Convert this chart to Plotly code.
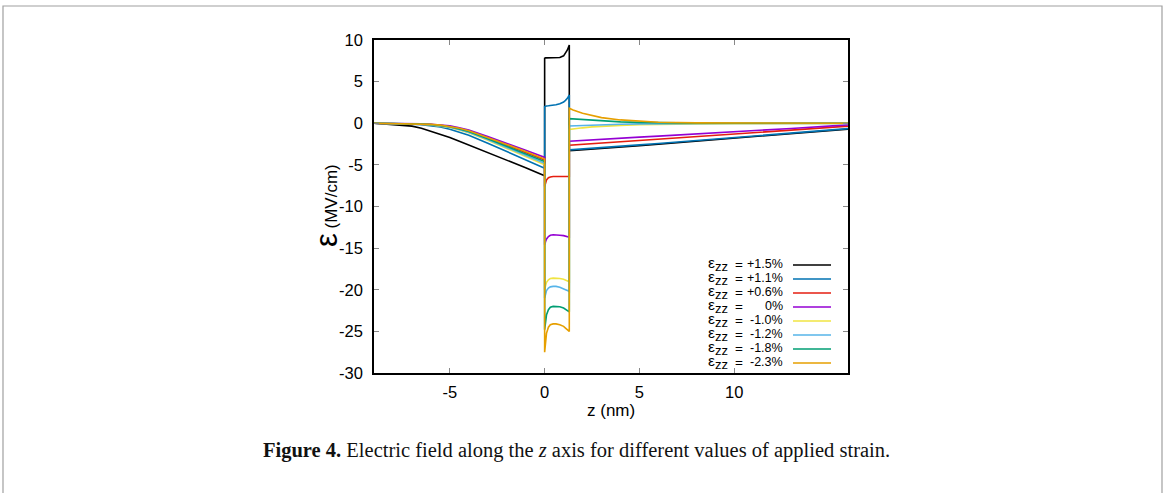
import plotly.graph_objects as go

# ---------------- data ----------------
z_left = [-9, -8, -7, -6.5, -6, -5.5, -5, -4.5, -4, -3, -2, -1, 0]
z_well = [0, 0.05, 0.1, 0.2, 0.3, 0.45, 0.6, 0.8, 1.0, 1.1, 1.2, 1.3]
z_right = [1.3, 1.5, 2, 2.5, 3, 4, 5, 6, 8, 10, 13, 16]

labels = ["+1.5%", "+1.1%", "+0.6%", "0%", "-1.0%", "-1.2%", "-1.8%", "-2.3%"]
colors = ["#000000", "#0072b2", "#e51e10", "#9400d3", "#f0e442", "#56b4e9", "#009e73", "#e69f00"]

left_p15 = [0.0, -0.15, -0.35, -0.6, -0.95, -1.3, -1.7, -2.15, -2.6, -3.5, -4.45, -5.35, -6.3]
left_p11 = [0.0, -0.03, -0.1, -0.18, -0.3, -0.45, -0.72, -1.05, -1.45, -2.4, -3.4, -4.4, -5.4]
left_p06 = [0.0, -0.02, -0.05, -0.09, -0.15, -0.25, -0.4, -0.65, -0.95, -1.75, -2.62, -3.5, -4.4]
left_0 = [0.0, -0.01, -0.04, -0.07, -0.12, -0.2, -0.32, -0.55, -0.82, -1.6, -2.4, -3.25, -4.1]
left_m10 = [0.0, -0.02, -0.06, -0.12, -0.2, -0.32, -0.52, -0.82, -1.15, -2.05, -3.0, -4.0, -5.0]
left_m12 = [0.0, -0.02, -0.05, -0.1, -0.18, -0.3, -0.48, -0.76, -1.08, -1.95, -2.88, -3.85, -4.8]
left_m18 = [0.0, -0.02, -0.05, -0.09, -0.16, -0.27, -0.43, -0.7, -1.0, -1.85, -2.75, -3.65, -4.6]
left_m23 = [0.0, -0.02, -0.05, -0.08, -0.14, -0.23, -0.37, -0.6, -0.9, -1.7, -2.55, -3.4, -4.3]

well_p15 = [7.8, 7.85, 7.85, 7.85, 7.85, 7.85, 7.85, 7.9, 8.1, 8.4, 8.8, 9.4]
well_p11 = [2.0, 2.05, 2.08, 2.1, 2.12, 2.16, 2.22, 2.35, 2.55, 2.75, 3.0, 3.4]
well_p06 = [-7.6, -7.1, -6.8, -6.55, -6.45, -6.4, -6.4, -6.4, -6.4, -6.4, -6.4, -6.4]
well_0 = [-14.6, -14.2, -13.9, -13.6, -13.45, -13.4, -13.4, -13.45, -13.5, -13.55, -13.6, -13.7]
well_m10 = [-20.0, -19.5, -19.1, -18.8, -18.65, -18.6, -18.6, -18.65, -18.75, -18.85, -18.95, -19.05]
well_m12 = [-21.0, -20.5, -20.1, -19.8, -19.65, -19.6, -19.6, -19.7, -19.85, -20.0, -20.1, -20.2]
well_m18 = [-24.8, -23.8, -23.0, -22.4, -22.1, -22.0, -22.0, -22.05, -22.2, -22.35, -22.5, -22.65]
well_m23 = [-27.5, -26.2, -25.2, -24.5, -24.2, -24.1, -24.1, -24.2, -24.4, -24.6, -24.8, -25.0]

right_p15 = [-3.3, -3.27, -3.2, -3.12, -3.05, -2.88, -2.7, -2.52, -2.15, -1.78, -1.23, -0.7]
right_p11 = [-3.2, -3.17, -3.1, -3.02, -2.95, -2.78, -2.6, -2.43, -2.07, -1.7, -1.17, -0.65]
right_p06 = [-2.65, -2.62, -2.55, -2.48, -2.4, -2.25, -2.1, -1.95, -1.62, -1.3, -0.82, -0.35]
right_0 = [-2.15, -2.12, -2.05, -1.98, -1.92, -1.8, -1.67, -1.55, -1.3, -1.04, -0.63, -0.2]
right_m10 = [-0.75, -0.68, -0.55, -0.44, -0.36, -0.25, -0.17, -0.12, -0.07, -0.05, -0.03, -0.02]
right_m12 = [-0.32, -0.3, -0.25, -0.21, -0.17, -0.12, -0.08, -0.06, -0.04, -0.03, -0.02, -0.01]
right_m18 = [0.55, 0.52, 0.42, 0.35, 0.28, 0.17, 0.1, 0.05, 0.02, 0.0, 0.0, 0.0]
right_m23 = [1.8, 1.6, 1.2, 0.9, 0.68, 0.4, 0.23, 0.12, 0.04, 0.01, 0.0, 0.0]

x_ticks = [-5, 0, 5, 10]
y_ticks = [-30, -25, -20, -15, -10, -5, 0, 5, 10]

series = [
    (left_p15, well_p15, right_p15),
    (left_p11, well_p11, right_p11),
    (left_p06, well_p06, right_p06),
    (left_0, well_0, right_0),
    (left_m10, well_m10, right_m10),
    (left_m12, well_m12, right_m12),
    (left_m18, well_m18, right_m18),
    (left_m23, well_m23, right_m23),
]

# ---------------- layout geometry (pixels) ----------------
W, H = 1165, 493
PL, PR, PT, PB = 374, 848, 40, 373
SANS = "Liberation Sans, Arial"


def xp(px):
    return (px - PL) / (PR - PL)


def yp(py):
    return (PB - py) / (PB - PT)


fig = go.Figure()
z_all = z_left + z_well + z_right
for (lv, wv, rv), lab, col in zip(series, labels, colors):
    fig.add_trace(go.Scatter(
        x=z_all, y=lv + wv + rv, mode="lines", name=lab,
        line=dict(color=col, width=1.6), showlegend=False,
    ))

annotations = []
shapes = []


def txt(px, py, text, size, anchor="left", **kw):
    annotations.append(dict(
        x=xp(px), y=yp(py), xref="paper", yref="paper", xanchor=anchor, yanchor="middle",
        text=text, showarrow=False, borderpad=0,
        font=dict(family=SANS, size=size, color="#000"), **kw))


# legend (gnuplot style: text then line sample)
leg_y0, leg_dy = 264, 14
for i, (lab, col) in enumerate(zip(labels, colors)):
    yy = leg_y0 + i * leg_dy
    txt(707, yy, "ε<sub><span style='font-size:13px'>zz</span></sub>", 15.5)
    txt(739, yy, "=", 13.5, anchor="center")
    txt(784, yy, lab, 12.5, anchor="right")
    shapes.append(dict(type="line", xref="paper", yref="paper",
                       x0=xp(793), x1=xp(831), y0=yp(yy + 1), y1=yp(yy + 1),
                       line=dict(color=col, width=1.6)))

# y axis title
annotations.append(dict(
    x=xp(326), y=yp(206), xref="paper", yref="paper", xanchor="center", yanchor="middle",
    textangle=-90, showarrow=False,
    text="<span style='font-size:31px'>ε</span> (MV/cm)",
    font=dict(family=SANS, size=17, color="#000")))

# x axis title
txt(611, 410, "z (nm)", 17, anchor="center")

# caption
annotations.append(dict(
    x=xp(576), y=yp(450), xref="paper", yref="paper", xanchor="center", yanchor="middle",
    showarrow=False,
    text="<b>Figure 4.</b> Electric field along the <i>z</i> axis for different values of applied strain.",
    font=dict(family="Liberation Serif, Times New Roman", size=20.5, color="#111")))

# outer frame
shapes.append(dict(type="rect", xref="paper", yref="paper",
                   x0=xp(3), x1=xp(1162), y0=yp(520), y1=yp(6),
                   line=dict(color="#a0a0a0", width=1.2), fillcolor="rgba(0,0,0,0)", layer="below"))

fig.update_layout(
    width=W, height=H,
    margin=dict(l=PL, r=W - PR, t=PT, b=H - PB, pad=0),
    paper_bgcolor="white", plot_bgcolor="white",
    annotations=annotations, shapes=shapes, showlegend=False,
    font=dict(family=SANS, size=16, color="#000"),
)
fig.update_xaxes(
    range=[-9, 16], tickvals=x_ticks, ticktext=[str(v) for v in x_ticks],
    showgrid=False, zeroline=False, showline=True, linecolor="#000", linewidth=1.5,
    mirror="ticks", ticks="inside", ticklen=5, tickwidth=1, tickcolor="#888",
    tickfont=dict(size=16.5), ticklabelstandoff=3,
)
fig.update_yaxes(
    range=[-30, 10], tickvals=y_ticks, ticktext=[str(v) for v in y_ticks],
    showgrid=False, zeroline=False, showline=True, linecolor="#000", linewidth=1.5,
    mirror="ticks", ticks="inside", ticklen=5, tickwidth=1, tickcolor="#888",
    tickfont=dict(size=16.5), ticklabelstandoff=6,
)

fig.write_html("out.html")
